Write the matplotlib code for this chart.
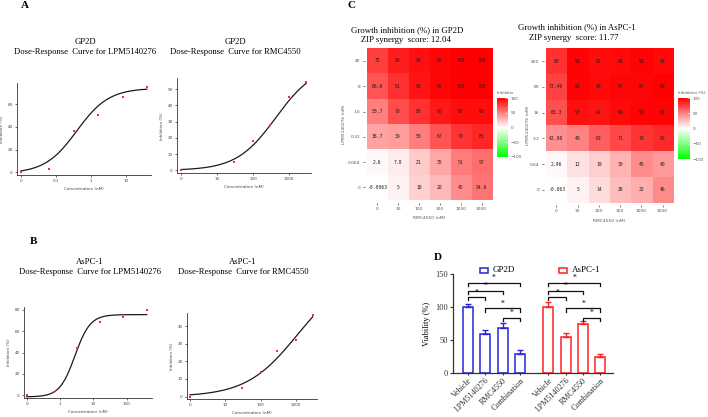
import numpy as np
import matplotlib
matplotlib.use('Agg')
import matplotlib.pyplot as plt
from matplotlib.colors import LinearSegmentedColormap
from matplotlib.patches import Rectangle
from matplotlib.transforms import Bbox, TransformedBbox

W, H = 708, 417

# panel A / B: dose-response points
lpm_gp2d_conc = [0, 0.064, 0.32, 1.6, 8, 40]
lpm_gp2d_inh = [-0.0063, 2.6, 36.7, 50.7, 66.6, 75]
rmc_gp2d_conc = [0, 30, 100, 300, 1000, 3000]
rmc_gp2d_inh = [-0.0063, 5, 18, 28, 45, 54.6]
lpm_aspc_conc = [0, 0.64, 3.2, 16, 80, 400]
lpm_aspc_inh = [-0.063, 2.96, 43.98, 68.3, 73.46, 80]
rmc_aspc_conc = [0, 30, 100, 300, 1000, 3000]
rmc_aspc_inh = [-0.063, 5, 14, 26, 32, 46]

# fitted 4PL curves: bottom, top, ic50, hill
lpm_gp2d_fit = [-1, 74, 0.396, 0.95]
rmc_gp2d_fit = [0, 65, 431, 0.795]
lpm_aspc_fit = [-1.5, 75.6, 2.8, 1.9]
rmc_aspc_fit = [0, 70, 1100, 0.6]

# panel C: growth inhibition matrices (rows = LPM5140276, cols = RMC4550)
rmc_doses = ['0', '30', '100', '300', '1000', '3000']
lpm_doses_gp2d = ['40', '8', '1.6', '0.32', '0.064', '0']
lpm_doses_aspc = ['400', '80', '16', '3.2', '0.64', '0']
inhib_gp2d = [
    [75, 88, 93, 97, 100, 100],
    [66.6, 81, 92, 97, 100, 100],
    [50.7, 70, 80, 90, 95, 95],
    [36.7, 39, 50, 67, 79, 85],
    [2.6, 7.8, 21, 35, 51, 57],
    [-0.0063, 5, 18, 28, 45, 54.6],
]
inhib_aspc = [
    [80, 98, 95, 96, 98, 96],
    [73.46, 98, 96, 97, 97, 99],
    [68.3, 93, 92, 96, 98, 98],
    [43.98, 49, 63, 71, 79, 83],
    [2.96, 12, 19, 30, 45, 40],
    [-0.063, 5, 14, 26, 32, 46],
]
zip_gp2d = 12.04
zip_aspc = 11.77

# panel D: viability
treatments = ['Vehicle', 'LPM5140276', 'RMC4550', 'Combination']
gp2d_viab = [100, 59, 68, 29]
gp2d_err = [5, 6, 8, 6]
aspc_viab = [100, 54, 74, 24]
aspc_err = [8, 6, 5, 5]
sig_pairs = [(0, 3), (0, 2), (0, 1), (1, 3), (2, 3)]
sig_heights = [137, 125, 115, 98, 84]

plt.rcParams['font.family'] = ['Liberation Serif', 'DejaVu Serif']
SANS = 'DejaVu Sans'

fig = plt.figure(figsize=(W / 100, H / 100), dpi=100)


def add_ax(l, t, r, b):
    return fig.add_axes([l / W, 1 - b / H, (r - l) / W, (b - t) / H])


def ftext(x, y, s, **kw):
    return fig.text(x / W, 1 - y / H, s, **kw)


def dose_panel(box, conc, inh, fit, zero_pos, xlim, ylim, xticks, xlabels, yticks):
    ax = add_ax(*box)
    x = np.array(conc, dtype=float)
    x[0] = zero_pos
    b, t, ic, h = fit
    xc = np.logspace(np.log10(zero_pos), np.log10(conc[-1]), 200)
    ax.plot(xc, b + (t - b) / (1 + (ic / xc) ** h), color='#1a1a1a', lw=0.9)
    ax.plot(x, inh, 's', color='#ff2b2b', ms=1.9, mew=0)
    ax.set_xscale('log')
    ax.set_xlim(*xlim)
    ax.set_ylim(*ylim)
    ax.set_xticks(xticks)
    ax.set_xticklabels(xlabels)
    ax.minorticks_off()
    ax.set_yticks(yticks)
    for s in ['top', 'right']:
        ax.spines[s].set_visible(False)
    for s in ['left', 'bottom']:
        ax.spines[s].set_linewidth(0.6)
        ax.spines[s].set_color('#333333')
    ax.tick_params(labelsize=3, length=1.5, width=0.5, pad=1.5,
                   colors='#333333', labelcolor='#444444')
    for lab in ax.get_xticklabels() + ax.get_yticklabels():
        lab.set_family(SANS)
    ax.set_xlabel('Concentration (nM)', fontsize=3, family=SANS, color='#444444', labelpad=2.5)
    ax.set_ylabel('Inhibition (%)', fontsize=3, family=SANS, color='#444444', labelpad=2.5)
    return ax


# ---- A ----
ftext(25, 6, 'A', fontsize=8, fontweight='bold', ha='center', va='center')
dose_panel((16.7, 83, 150.7, 175), lpm_gp2d_conc, lpm_gp2d_inh, lpm_gp2d_fit, 0.01,
           (0.0075, 51.3), (-2.4, 78.5), [0.01, 0.1, 1, 10], ['0', '0.1', '1', '10'],
           [0, 20, 40, 60])
ftext(85, 42, 'GP2D', fontsize=6.2, ha='center', va='center')
ftext(85, 52.5, 'Dose-Response  Curve for LPM5140276', fontsize=6.2, ha='center', va='center')

dose_panel((176.7, 78.3, 310.7, 173.3), rmc_gp2d_conc, rmc_gp2d_inh, rmc_gp2d_fit, 1,
           (0.76, 3981), (-1.8, 56.6), [1, 10, 100, 1000], ['0', '10', '100', '1000'],
           [0, 10, 20, 30, 40, 50])
ftext(235, 42, 'GP2D', fontsize=6.2, ha='center', va='center')
ftext(235, 52.5, 'Dose-Response  Curve for RMC4550', fontsize=6.2, ha='center', va='center')

# ---- B ----
ftext(33, 242, 'B', fontsize=8, fontweight='bold', ha='center', va='center')
dose_panel((24, 306.7, 151.7, 398.3), lpm_aspc_conc, lpm_aspc_inh, lpm_aspc_fit, 0.1,
           (0.083, 562), (-2.8, 83), [0.1, 1, 10, 100], ['0', '1', '10', '100'],
           [0, 20, 40, 60, 80])
ftext(90, 261.5, 'AsPC-1', fontsize=6.2, ha='center', va='center')
ftext(90, 271.5, 'Dose-Response  Curve for LPM5140276', fontsize=6.2, ha='center', va='center')

dose_panel((186.7, 313.3, 316.7, 399.3), rmc_aspc_conc, rmc_aspc_inh, rmc_aspc_fit, 1,
           (0.805, 3890), (-1.5, 47.2), [1, 10, 100, 1000], ['0', '10', '100', '1000'],
           [0, 10, 20, 30, 40])
ftext(243, 261.5, 'AsPC-1', fontsize=6.2, ha='center', va='center')
ftext(243, 271.5, 'Dose-Response  Curve for RMC4550', fontsize=6.2, ha='center', va='center')

# ---- C ----
cmap = LinearSegmentedColormap.from_list('gwr', ['#00ff00', '#ffffff', '#ff0000'])


def heat_panel(box, vals, ylabels, cbox, ylab_x, xlab_y, clip_x=None):
    ax = add_ax(*box)
    im = ax.imshow(np.array(vals), cmap=cmap, vmin=-100, vmax=100, aspect='auto',
                   extent=(-0.5, 5.5, 5.5, -0.5))
    ax.set_xlim(-0.6, 5.6)
    ax.set_ylim(5.6, -0.6)
    for i, row in enumerate(vals):
        for j, v in enumerate(row):
            ax.text(j, i, f'{v:g}', ha='center', va='center', fontsize=3.4,
                    family='DejaVu Sans Mono', color='#222222')
    ax.set_xticks(range(6))
    ax.set_xticklabels(rmc_doses)
    ax.set_yticks(range(6))
    ax.set_yticklabels(ylabels)
    for s in ax.spines.values():
        s.set_visible(False)
    ax.tick_params(labelsize=3.2, length=1.5, width=0.5, pad=1.5,
                   colors='#444444', labelcolor='#555555')
    for lab in ax.get_xticklabels() + ax.get_yticklabels():
        lab.set_family(SANS)
    cx = (box[0] + box[2]) / 2
    ftext(cx, xlab_y, 'RMC4550 (nM)', fontsize=3.2, family=SANS, color='#555555',
          ha='center', va='center')
    ftext(ylab_x, (box[1] + box[3]) / 2, 'LPM5140276 (nM)', fontsize=3.2, family=SANS,
          color='#555555', ha='center', va='center', rotation=90)
    cax = add_ax(*cbox)
    cb = fig.colorbar(im, cax=cax, ticks=[-100, -50, 0, 50, 100])
    cb.outline.set_visible(False)
    cax.tick_params(labelsize=3, length=2, width=0.4, color='white', direction='in',
                    pad=2, labelcolor='#555555')
    for lab in cax.get_yticklabels():
        lab.set_family(SANS)
    t = ftext(cbox[0], cbox[1] - 5, 'Inhibition (%)', fontsize=3, family=SANS,
              color='#555555', ha='left', va='center')
    if clip_x is not None:
        t.set_clip_box(TransformedBbox(Bbox([[0, 0], [clip_x / W, 1]]), fig.transFigure))
        t.set_clip_on(True)
    return ax


ftext(352, 6, 'C', fontsize=8, fontweight='bold', ha='center', va='center')
heat_panel((364.6, 45.8, 494.1, 202.5), inhib_gp2d, lpm_doses_gp2d,
           (497, 98, 508, 157), 344, 218, clip_x=513)
ftext(407, 30, 'Growth inhibition (%) in GP2D', fontsize=6.3, ha='center', va='center')
ftext(406, 40.5, f'ZIP synergy  score: {zip_gp2d:.2f}', fontsize=6.3, ha='center', va='center')

heat_panel((543.6, 45.7, 675.4, 205.3), inhib_aspc, lpm_doses_aspc,
           (678, 98, 690, 159), 528, 221)
ftext(577, 27, 'Growth inhibition (%) in AsPC-1', fontsize=6.3, ha='center', va='center')
ftext(574, 37.5, f'ZIP synergy  score: {zip_aspc:.2f}', fontsize=6.3, ha='center', va='center')

# ---- D ----
ftext(438, 258, 'D', fontsize=8, fontweight='bold', ha='center', va='center')
axd = add_ax(453, 274, 613, 373)
pos_g = np.arange(4)
pos_a = np.arange(4) + 4.65
for pos, vals, errs, col in [(pos_g, gp2d_viab, gp2d_err, '#2424d8'),
                             (pos_a, aspc_viab, aspc_err, '#ff2020')]:
    axd.bar(pos, vals, width=0.58, facecolor='white', edgecolor=col, linewidth=1.1,
            yerr=[[0] * 4, errs], capsize=2.2,
            error_kw=dict(ecolor=col, elinewidth=1.0, capthick=1.0))
    for (i, j), hgt in zip(sig_pairs, sig_heights):
        x1, x2 = pos[i], pos[j]
        axd.plot([x1, x1, x2, x2], [hgt - 5, hgt, hgt, hgt - 5], color='#111111',
                 lw=0.9, clip_on=False)
        axd.text((x1 + x2) / 2, hgt + 0.5, '*', fontsize=5.5, ha='center', va='bottom')

axd.set_xlim(-0.87, 8.38)
axd.set_ylim(0, 150)
axd.set_yticks([0, 50, 100, 150])
axd.set_xticks(np.concatenate([pos_g, pos_a]))
axd.set_xticklabels(treatments * 2, rotation=45, ha='right', rotation_mode='anchor')
for s in ['top', 'right']:
    axd.spines[s].set_visible(False)
for s in ['left', 'bottom']:
    axd.spines[s].set_linewidth(0.9)
    axd.spines[s].set_color('#333333')
axd.tick_params(axis='y', labelsize=6, length=2.5, width=0.8, pad=1, colors='#333333')
axd.tick_params(axis='x', labelsize=5.9, length=1.5, width=0.8, pad=1, colors='#333333')
axd.set_ylabel('Viability (%)', fontsize=6, labelpad=3)

for x0, lab, col in [(480, 'GP2D', '#2424d8'), (559, 'AsPC-1', '#ff2020')]:
    fig.add_artist(Rectangle((x0 / W, 1 - 272.5 / H), 7.5 / W, 4.5 / H,
                             transform=fig.transFigure, facecolor='white',
                             edgecolor=col, linewidth=1.1))
    ftext(x0 + 13, 270.5, lab, fontsize=6.5, ha='left', va='center')

fig.savefig('out.png', dpi=100)
